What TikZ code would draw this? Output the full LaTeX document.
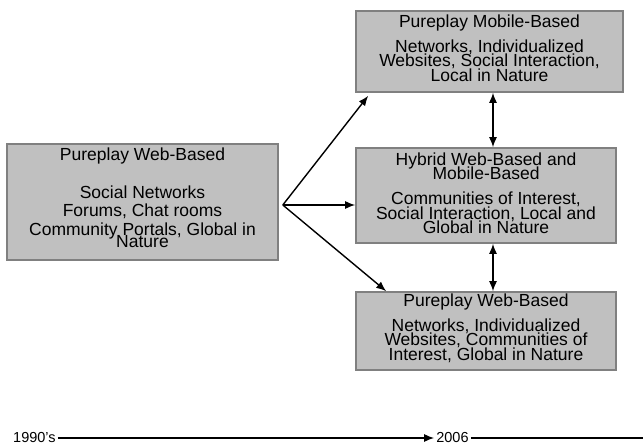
\documentclass[tikz,border=0pt]{standalone}
\usepackage{fontspec}
\setmainfont{Liberation Sans}
\usetikzlibrary{arrows.meta}
\definecolor{boxfill}{HTML}{C0C0C0}
\definecolor{boxedge}{HTML}{808080}
\begin{document}
\begin{tikzpicture}[x=1pt,y=-1pt,
  box/.style n args={2}{draw=boxedge, fill=boxfill, line width=1.6pt, inner sep=0pt,
     minimum width=#1, minimum height=#2},
  txt/.style={align=center, inner sep=0pt, anchor=north,
     font=\fontsize{17.5}{14.5}\selectfont,
     execute at begin node={\lineskiplimit=-50pt\relax}},
  tl/.style={inner xsep=2pt, inner ysep=0pt, font=\fontsize{14.5}{16}\selectfont},
  arr/.style={line width=1.4pt, -{Latex[length=10pt,width=8pt]}},
  dbl/.style={line width=1.4pt, {Latex[length=10pt,width=8pt]}-{Latex[length=10pt,width=8pt]}}]
\useasboundingbox (0,0) rectangle (643,446);
% boxes
\node[box={271pt}{116pt}] (l) at (142.5,202) {};
\node[box={267pt}{81pt}]  (t) at (489.5,51.5) {};
\node[box={260pt}{95pt}]  (m) at (486,195.5) {};
\node[box={260pt}{78pt}]  (b) at (486,331) {};
% texts
\node[txt] (lt) at ([shift={(0,3.7)}]l.north) {\rule{0pt}{13pt}Pureplay Web-Based\\[23.5pt]
  Social Networks\\[3.5pt] Forums, Chat rooms\\[4.5pt] Community Portals, Global in\\[-2.5pt] Nature};
\node[txt] (tt) at ([shift={(0,4)}]t.north) {\rule{0pt}{13pt}Pureplay Mobile-Based\\[10.5pt]
  Networks, Individualized\\ Websites, Social Interaction,\\ Local in Nature};
\node[txt] (mt) at ([shift={(0,5)}]m.north) {\rule{0pt}{13pt}Hybrid Web-Based and\\ Mobile-Based\\[10.5pt]
  Communities of Interest,\\ Social Interaction, Local and\\ Global in Nature};
\node[txt] (bt) at ([shift={(0,2)}]b.north) {\rule{0pt}{13pt}Pureplay Web-Based\\[10.5pt]
  Networks, Individualized\\ Websites, Communities of\\ Interest, Global in Nature};
% fan arrows
\coordinate (fan) at ([shift={(4,3)}]l.east);
\draw[arr] (fan) -- ([shift={(13,3)}]t.south west);
\draw[arr] (fan) -- (m.west |- fan);
\draw[arr] (fan) -- ([shift={(31,0)}]b.north west);
% vertical double arrows
\coordinate (vx) at (493,0);
\draw[dbl] (t.south -| vx) -- (m.north -| vx);
\draw[dbl] (m.south -| vx) -- (b.north -| vx);
% timeline
\node[tl, anchor=west] (y0) at (11,438) {1990’s};
\node[tl] (y1) at (452.5,438) {2006};
\coordinate (yend) at (643,438);
\draw[arr] (y0.east) -- (y1.west);
\draw[line width=1.4pt] (y1.east) -- (yend);
\end{tikzpicture}
\end{document}
